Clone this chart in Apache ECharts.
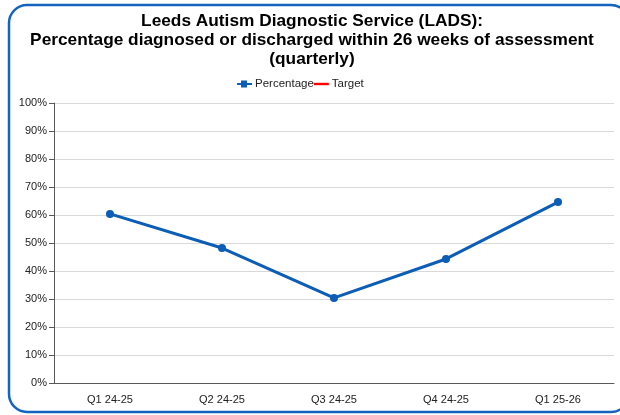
<!DOCTYPE html>
<html>
<head>
<meta charset="utf-8">
<script src="https://cdn.jsdelivr.net/npm/echarts@6/dist/echarts.min.js"></script>
<style>
  html, body { margin: 0; padding: 0; background: #fff; }
  #chart { width: 620px; height: 415px; }
</style>
</head>
<body>
<div id="chart"></div>
<script>
  var quarters = ['Q1 24-25', 'Q2 24-25', 'Q3 24-25', 'Q4 24-25', 'Q1 25-26'];
  var percentage = [60.4, 48.2, 30.4, 44.3, 64.6];
  var target = [];

  var chart = echarts.init(document.getElementById('chart'));
  chart.setOption({
    animation: false,
    textStyle: {fontFamily: 'Liberation Sans, Arial, sans-serif'},
    graphic: [{
      type: 'rect',
      shape: {x: 9, y: 5, width: 620, height: 407, r: 18},
      style: {fill: 'none', stroke: '#1565c0', lineWidth: 2.5},
      silent: true
    }],
    title: {
      text: 'Leeds Autism Diagnostic Service (LADS):\nPercentage diagnosed or discharged within 26 weeks of assessment\n(quarterly)',
      left: 312,
      textAlign: 'center',
      top: 12,
      padding: 0,
      textStyle: {fontSize: 17.3, fontWeight: 'bold', color: '#000', lineHeight: 18.8}
    },
    legend: {
      top: 78,
      left: 237,
      padding: 0,
      itemWidth: 15,
      itemHeight: 8,
      itemGap: 0,
      textStyle: {fontSize: 11.5, color: '#222', padding: [0, 0, 0, -2]},
      data: [
        {name: 'Percentage', icon: 'path://M0,3 L15,3 L15,5 L0,5 Z M4,0.5 L10,0.5 L10,7.5 L4,7.5 Z'},
        {name: 'Target', icon: 'path://M0,2.8 L15,2.8 L15,5.2 L0,5.2 Z'}
      ]
    },
    grid: {left: 54, right: 6, top: 103, bottom: 32},
    xAxis: {
      type: 'category',
      data: quarters,
      axisLine: {lineStyle: {color: '#595959'}},
      axisTick: {alignWithLabel: true, length: 5, lineStyle: {color: '#595959'}},
      axisLabel: {fontSize: 11, color: '#222', margin: 11}
    },
    yAxis: {
      type: 'value',
      min: 0,
      max: 100,
      interval: 10,
      axisLine: {show: true, lineStyle: {color: '#595959'}},
      axisTick: {show: true, length: 5, lineStyle: {color: '#595959'}},
      axisLabel: {fontSize: 11, color: '#222', formatter: '{value}%', margin: 7},
      splitLine: {lineStyle: {color: '#d9d9d9'}}
    },
    series: [
      {
        name: 'Percentage',
        type: 'line',
        data: percentage,
        symbol: 'circle',
        symbolSize: 8,
        color: '#0b5db5',
        lineStyle: {width: 3, color: '#0b5db5'},
        itemStyle: {color: '#0b5db5'}
      },
      {
        name: 'Target',
        type: 'line',
        data: target,
        color: '#ff0000',
        lineStyle: {width: 3, color: '#ff0000'}
      }
    ]
  });
</script>
</body>
</html>
